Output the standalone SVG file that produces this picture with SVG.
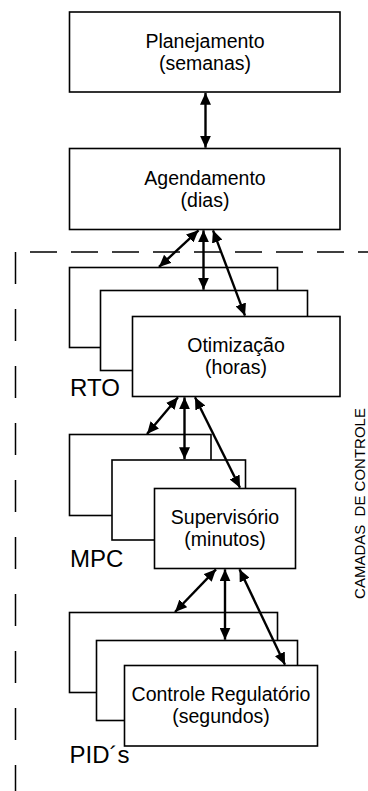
<svg xmlns="http://www.w3.org/2000/svg" width="368" height="791" viewBox="0 0 368 791">
  <style>
    .box { fill: #ffffff; stroke: #000000; stroke-width: 1.6; }
    .t { font-family: "Liberation Sans", Arial, sans-serif; font-size: 19.5px; fill: #000000; text-anchor: middle; }
    .lbl { font-family: "Liberation Sans", Arial, sans-serif; font-size: 24px; fill: #000000; }
    .side { font-family: "Liberation Sans", Arial, sans-serif; font-size: 15px; fill: #000000; text-anchor: middle; white-space: pre; }
    .link { stroke: #000000; stroke-width: 2.4; fill: none; marker-start: url(#head); marker-end: url(#head); }
    .dash { stroke: #000000; stroke-width: 1.5; fill: none; }
  </style>
  <defs>
    <marker id="head" viewBox="0 0 12 11" refX="12" refY="5.5" markerWidth="12" markerHeight="11" markerUnits="userSpaceOnUse" orient="auto-start-reverse">
      <path d="M0,0 L12,5.5 L0,11 z" fill="#000000"/>
    </marker>
  </defs>

  <!-- control-layer boundary -->
  <g id="boundary">
    <line class="dash" x1="30" y1="252" x2="368" y2="252" stroke-dasharray="27 14"/>
    <line class="dash" x1="15.5" y1="252" x2="15.5" y2="791" stroke-dasharray="32 25"/>
  </g>

  <g id="planejamento">
    <rect class="box" x="69.5" y="12" width="270.5" height="80"/>
    <text class="t" x="205" y="47.5">Planejamento</text>
    <text class="t" x="205" y="69.5">(semanas)</text>
  </g>

  <g id="agendamento">
    <rect class="box" x="69.5" y="148.5" width="270.5" height="81"/>
    <text class="t" x="205" y="184.5">Agendamento</text>
    <text class="t" x="205" y="206.5">(dias)</text>
  </g>

  <g id="otimizacao">
    <rect class="box" x="69.5" y="267.5" width="208" height="80"/>
    <rect class="box" x="100.5" y="290.5" width="207" height="80"/>
    <rect class="box" x="132.5" y="316.5" width="207.5" height="80"/>
    <text class="t" x="236" y="352">Otimização</text>
    <text class="t" x="236" y="374">(horas)</text>
    <text class="lbl" x="70" y="396">RTO</text>
  </g>

  <g id="supervisorio">
    <rect class="box" x="69.5" y="434.5" width="141.5" height="81"/>
    <rect class="box" x="112" y="460" width="133.5" height="80"/>
    <rect class="box" x="154.5" y="488.5" width="141" height="80"/>
    <text class="t" x="225" y="524">Supervisório</text>
    <text class="t" x="225" y="546">(minutos)</text>
    <text class="lbl" x="70" y="567">MPC</text>
  </g>

  <g id="regulatorio">
    <rect class="box" x="69.5" y="612.5" width="208" height="80"/>
    <rect class="box" x="96.5" y="640.5" width="201" height="80"/>
    <rect class="box" x="124.5" y="665.5" width="193" height="80.5"/>
    <text class="t" x="221" y="701">Controle Regulatório</text>
    <text class="t" x="221" y="723">(segundos)</text>
    <text class="lbl" x="69.5" y="763">PID´s</text>
  </g>

  <g id="camadas">
    <text class="side" transform="translate(364.5,503.5) rotate(-90)">CAMADAS  DE CONTROLE</text>
  </g>

  <g id="connectors">
    <line class="link" x1="205.5" y1="92.8" x2="205.5" y2="147.7"/>

    <line class="link" x1="198.5" y1="230.3" x2="159" y2="267"/>
    <line class="link" x1="203.5" y1="230.3" x2="203.5" y2="289.7"/>
    <line class="link" x1="213" y1="230.3" x2="245" y2="315.7"/>

    <line class="link" x1="178" y1="397.3" x2="147" y2="434"/>
    <line class="link" x1="184.5" y1="397.3" x2="184.5" y2="459.2"/>
    <line class="link" x1="195" y1="397.3" x2="240" y2="487.7"/>

    <line class="link" x1="216" y1="569.3" x2="175" y2="612"/>
    <line class="link" x1="225" y1="569.3" x2="225" y2="639.7"/>
    <line class="link" x1="239.5" y1="569.3" x2="285" y2="664.7"/>
  </g>
</svg>
